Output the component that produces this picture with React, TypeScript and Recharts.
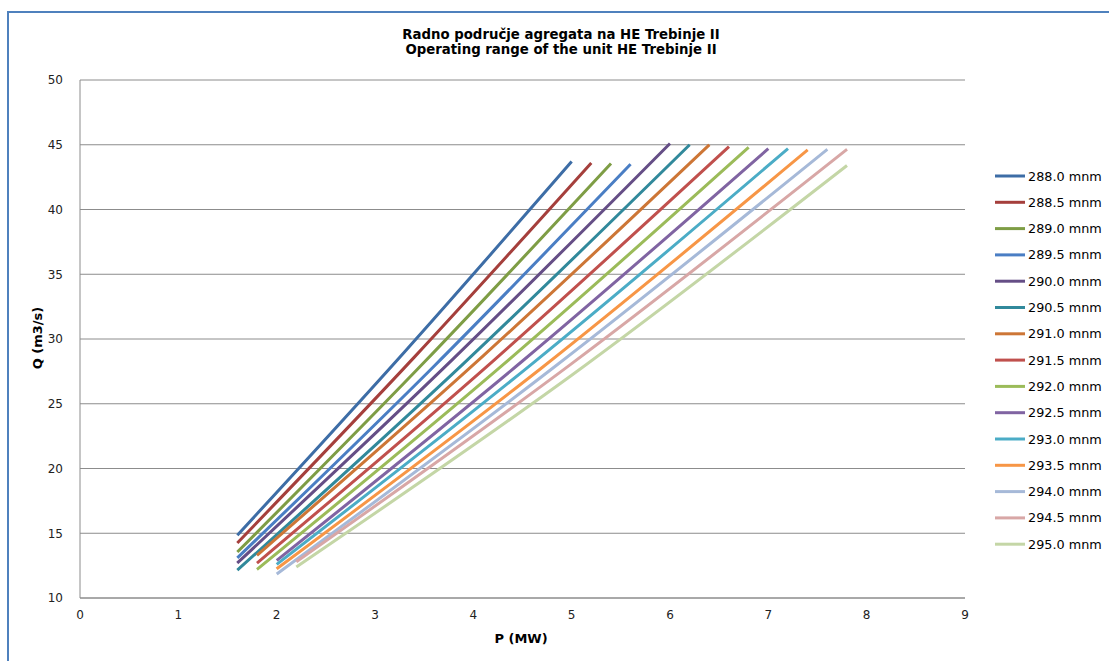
import React from "react";
import { LineChart, Line, XAxis, YAxis, CartesianGrid } from "recharts";

const levels = [
  "288.0 mnm", "288.5 mnm", "289.0 mnm", "289.5 mnm", "290.0 mnm",
  "290.5 mnm", "291.0 mnm", "291.5 mnm", "292.0 mnm", "292.5 mnm",
  "293.0 mnm", "293.5 mnm", "294.0 mnm", "294.5 mnm", "295.0 mnm",
];

const colors = [
  "#3D6DA6", "#A53F3C", "#7E9D45", "#4A7EC4", "#654E86",
  "#31899B", "#CD7636", "#C0504D", "#9BBB59", "#8064A2",
  "#4BACC6", "#F79646", "#A6B9D8", "#D8A7A6", "#C4D6A6",
];

// P (MW) values per series
const pValues: number[][] = [
  [1.6, 3.3, 5.0],
  [1.6, 3.4, 5.2],
  [1.6, 3.5, 5.4],
  [1.6, 3.6, 5.6],
  [1.6, 3.8, 6.0],
  [1.6, 3.9, 6.2],
  [1.8, 4.1, 6.4],
  [1.8, 4.2, 6.6],
  [1.8, 4.3, 6.8],
  [2.0, 4.5, 7.0],
  [2.0, 4.6, 7.2],
  [2.0, 4.7, 7.4],
  [2.0, 4.8, 7.6],
  [2.2, 5.0, 7.8],
  [2.2, 5.0, 7.8],
];

// Q (m3/s) values per series
const qValues: number[][] = [
  [14.85, 29.0, 43.7],
  [14.25, 28.6, 43.6],
  [13.55, 28.2, 43.55],
  [13.1, 27.9, 43.5],
  [12.7, 28.5, 45.1],
  [12.15, 28.1, 45.0],
  [13.3, 28.7, 45.0],
  [12.7, 28.3, 44.85],
  [12.2, 28.0, 44.8],
  [12.9, 28.3, 44.7],
  [12.6, 28.1, 44.7],
  [12.25, 27.8, 44.6],
  [11.85, 27.7, 44.65],
  [12.8, 28.1, 44.65],
  [12.4, 27.2, 43.4],
];

const xTicks = [0, 1, 2, 3, 4, 5, 6, 7, 8, 9];
const yTicks = [10, 15, 20, 25, 30, 35, 40, 45, 50];

const titleLines = [
  "Radno područje agregata na HE Trebinje II",
  "Operating range of the unit HE Trebinje II",
];

const FONT = "'DejaVu Sans', Verdana, sans-serif";

export default function App() {
  const series = levels.map((name, i) => ({
    name,
    color: colors[i],
    data: pValues[i].map((p, j) => ({ p, q: qValues[i][j] })),
  }));

  return (
    <div
      style={{
        position: "absolute",
        left: 0,
        top: 0,
        width: 1109,
        height: 661,
        background: "#fff",
        overflow: "hidden",
        fontFamily: FONT,
      }}
    >
      <div
        style={{
          position: "absolute",
          left: 7,
          top: 11,
          width: 1200,
          height: 800,
          borderLeft: "2.5px solid #4F81BD",
          borderTop: "2.5px solid #4F81BD",
          boxSizing: "border-box",
        }}
      />
      <LineChart
        width={1109}
        height={661}
        margin={{ top: 80, right: 144, bottom: 23, left: 30 }}
        style={{ position: "absolute", left: 0, top: 0 }}
      >
        <CartesianGrid vertical={false} stroke="#8C8C8C" strokeWidth={1} />
        <XAxis
          type="number"
          dataKey="p"
          domain={[0, 9]}
          ticks={xTicks}
          allowDuplicatedCategory={false}
          height={40}
          tickLine={false}
          tickSize={0}
          tickMargin={12}
          axisLine={{ stroke: "#8C8C8C" }}
          tick={{ fontSize: 12, fill: "#222", fontFamily: FONT }}
        />
        <YAxis
          type="number"
          dataKey="q"
          domain={[10, 50]}
          ticks={yTicks}
          width={50}
          tickLine={false}
          tickSize={0}
          tickMargin={17}
          axisLine={{ stroke: "#8C8C8C" }}
          tick={{ fontSize: 12, fill: "#222", fontFamily: FONT }}
        />
        {series.map((s) => (
          <Line
            key={s.name}
            data={s.data}
            dataKey="q"
            name={s.name}
            type="monotone"
            stroke={s.color}
            strokeWidth={3}
            dot={false}
            activeDot={false}
            isAnimationActive={false}
          />
        ))}
        <text
          x={561}
          y={39}
          textAnchor="middle"
          fontWeight="bold"
          fontSize={13.3}
          fontFamily={FONT}
          fill="#000"
        >
          {titleLines[0]}
        </text>
        <text
          x={561}
          y={54}
          textAnchor="middle"
          fontWeight="bold"
          fontSize={13.3}
          fontFamily={FONT}
          fill="#000"
        >
          {titleLines[1]}
        </text>
        <text
          x={521}
          y={643}
          textAnchor="middle"
          fontWeight="bold"
          fontSize={13}
          fontFamily={FONT}
          fill="#000"
        >
          P (MW)
        </text>
        <text
          x={42}
          y={338}
          textAnchor="middle"
          fontWeight="bold"
          fontSize={13}
          fontFamily={FONT}
          fill="#000"
          transform="rotate(-90 42 338)"
        >
          Q (m3/s)
        </text>
        {series.map((s, i) => (
          <g key={"lg" + s.name}>
            <line
              x1={995}
              x2={1025}
              y1={176 + i * 26.3}
              y2={176 + i * 26.3}
              stroke={s.color}
              strokeWidth={3}
            />
            <text
              x={1028}
              y={176 + i * 26.3 + 4.5}
              fontSize={12.8}
              fontFamily={FONT}
              fill="#000"
            >
              {s.name}
            </text>
          </g>
        ))}
      </LineChart>
    </div>
  );
}
